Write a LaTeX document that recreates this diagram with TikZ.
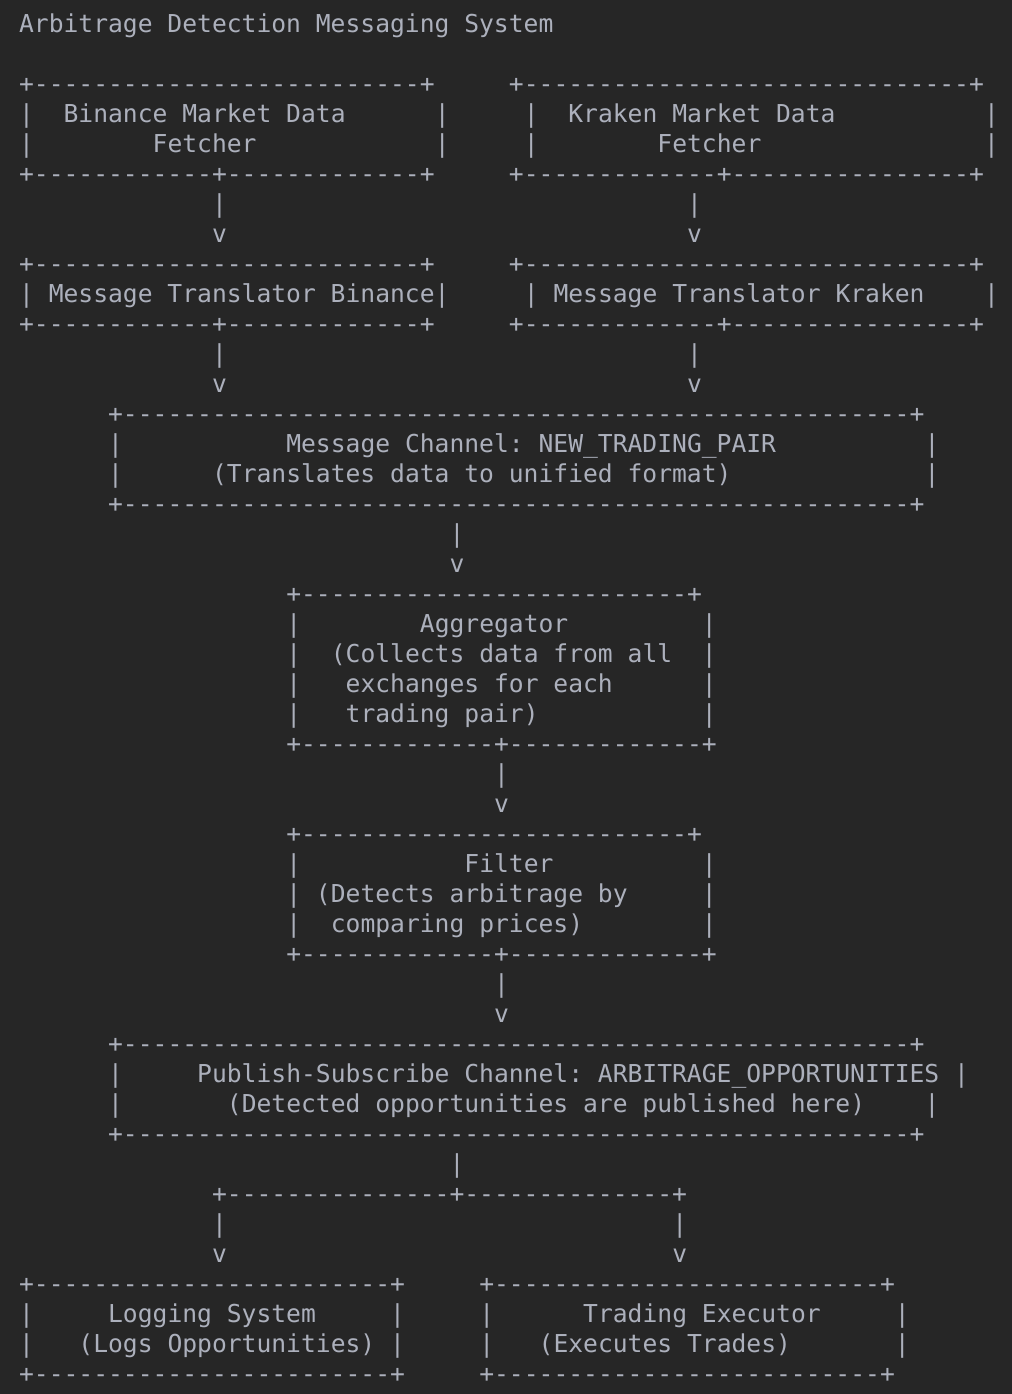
\documentclass[tikz,border=0pt]{standalone}
\usepackage{fontspec}
\setmonofont{DejaVu Sans Mono}
\definecolor{bg}{RGB}{38,38,38}
\definecolor{fg}{RGB}{172,176,188}
\ExplSyntaxOn
\cs_new:Npn \dashrun #1 { \prg_replicate:nn {#1} {-} }
\ExplSyntaxOff
\tikzset{
  txt/.style={anchor=base west, inner sep=0pt, outer sep=0pt, text=fg,
    font=\ttfamily\fontsize{18.49pt}{22.5pt}\selectfont}
}
% column, row, name, text
\newcommand\asciiseg[4]{\node[txt] (#3) at ({14.3pt+#1*11.1345pt},{-24.45pt-#2*22.5pt}) {#4};}
\begin{document}
\begin{tikzpicture}
\fill[bg] (0,0) rectangle (759pt,-1045.5pt);
\useasboundingbox (0,0) rectangle (759pt,-1045.5pt);
% title
\asciiseg{0}{0}{title}{Arbitrage Detection Messaging System}
% fetchers
\asciiseg{0}{2}{binf-top}{+\dashrun{26}+}
\asciiseg{33}{2}{krkf-top}{+\dashrun{30}+}
\asciiseg{0}{3}{binf-l1}{|}
\asciiseg{3}{3}{binf-t1}{Binance Market Data}
\asciiseg{28}{3}{binf-r1}{|}
\asciiseg{34}{3}{krkf-l1}{|}
\asciiseg{37}{3}{krkf-t1}{Kraken Market Data}
\asciiseg{65}{3}{krkf-r1}{|}
\asciiseg{0}{4}{binf-l2}{|}
\asciiseg{9}{4}{binf-t2}{Fetcher}
\asciiseg{28}{4}{binf-r2}{|}
\asciiseg{34}{4}{krkf-l2}{|}
\asciiseg{43}{4}{krkf-t2}{Fetcher}
\asciiseg{65}{4}{krkf-r2}{|}
\asciiseg{0}{5}{binf-bot}{+\dashrun{12}+\dashrun{13}+}
\asciiseg{33}{5}{krkf-bot}{+\dashrun{13}+\dashrun{16}+}
\asciiseg{13}{6}{a1-bar}{|}
\asciiseg{45}{6}{a2-bar}{|}
\asciiseg{13}{7}{a1-tip}{v}
\asciiseg{45}{7}{a2-tip}{v}
% translators
\asciiseg{0}{8}{bint-top}{+\dashrun{26}+}
\asciiseg{33}{8}{krkt-top}{+\dashrun{30}+}
\asciiseg{0}{9}{bint-t}{| Message Translator Binance|}
\asciiseg{34}{9}{krkt-t}{| Message Translator Kraken}
\asciiseg{65}{9}{krkt-r}{|}
\asciiseg{0}{10}{bint-bot}{+\dashrun{12}+\dashrun{13}+}
\asciiseg{33}{10}{krkt-bot}{+\dashrun{13}+\dashrun{16}+}
\asciiseg{13}{11}{a3-bar}{|}
\asciiseg{45}{11}{a4-bar}{|}
\asciiseg{13}{12}{a3-tip}{v}
\asciiseg{45}{12}{a4-tip}{v}
% message channel
\asciiseg{6}{13}{mc-top}{+\dashrun{53}+}
\asciiseg{6}{14}{mc-l1}{|}
\asciiseg{18}{14}{mc-t1}{Message Channel: NEW\_TRADING\_PAIR}
\asciiseg{61}{14}{mc-r1}{|}
\asciiseg{6}{15}{mc-l2}{|}
\asciiseg{13}{15}{mc-t2}{(Translates data to unified format)}
\asciiseg{61}{15}{mc-r2}{|}
\asciiseg{6}{16}{mc-bot}{+\dashrun{53}+}
\asciiseg{29}{17}{a5-bar}{|}
\asciiseg{29}{18}{a5-tip}{v}
% aggregator
\asciiseg{18}{19}{ag-top}{+\dashrun{26}+}
\asciiseg{18}{20}{ag-l1}{|}
\asciiseg{27}{20}{ag-t1}{Aggregator}
\asciiseg{46}{20}{ag-r1}{|}
\asciiseg{18}{21}{ag-l2}{|}
\asciiseg{21}{21}{ag-t2}{(Collects data from all}
\asciiseg{46}{21}{ag-r2}{|}
\asciiseg{18}{22}{ag-l3}{|}
\asciiseg{22}{22}{ag-t3}{exchanges for each}
\asciiseg{46}{22}{ag-r3}{|}
\asciiseg{18}{23}{ag-l4}{|}
\asciiseg{22}{23}{ag-t4}{trading pair)}
\asciiseg{46}{23}{ag-r4}{|}
\asciiseg{18}{24}{ag-bot}{+\dashrun{13}+\dashrun{13}+}
\asciiseg{32}{25}{a6-bar}{|}
\asciiseg{32}{26}{a6-tip}{v}
% filter
\asciiseg{18}{27}{fl-top}{+\dashrun{26}+}
\asciiseg{18}{28}{fl-l1}{|}
\asciiseg{30}{28}{fl-t1}{Filter}
\asciiseg{46}{28}{fl-r1}{|}
\asciiseg{18}{29}{fl-l2}{|}
\asciiseg{20}{29}{fl-t2}{(Detects arbitrage by}
\asciiseg{46}{29}{fl-r2}{|}
\asciiseg{18}{30}{fl-l3}{|}
\asciiseg{21}{30}{fl-t3}{comparing prices)}
\asciiseg{46}{30}{fl-r3}{|}
\asciiseg{18}{31}{fl-bot}{+\dashrun{13}+\dashrun{13}+}
\asciiseg{32}{32}{a7-bar}{|}
\asciiseg{32}{33}{a7-tip}{v}
% publish-subscribe channel
\asciiseg{6}{34}{ps-top}{+\dashrun{53}+}
\asciiseg{6}{35}{ps-l1}{|}
\asciiseg{12}{35}{ps-t1}{Publish-Subscribe Channel: ARBITRAGE\_OPPORTUNITIES |}
\asciiseg{6}{36}{ps-l2}{|}
\asciiseg{14}{36}{ps-t2}{(Detected opportunities are published here)}
\asciiseg{61}{36}{ps-r2}{|}
\asciiseg{6}{37}{ps-bot}{+\dashrun{53}+}
\asciiseg{29}{38}{sp-bar}{|}
\asciiseg{13}{39}{sp-line}{+\dashrun{15}+\dashrun{14}+}
\asciiseg{13}{40}{a8-bar}{|}
\asciiseg{44}{40}{a9-bar}{|}
\asciiseg{13}{41}{a8-tip}{v}
\asciiseg{44}{41}{a9-tip}{v}
% logging and trading
\asciiseg{0}{42}{lg-top}{+\dashrun{24}+}
\asciiseg{31}{42}{tr-top}{+\dashrun{26}+}
\asciiseg{0}{43}{lg-l1}{|}
\asciiseg{6}{43}{lg-t1}{Logging System}
\asciiseg{25}{43}{lg-r1}{|}
\asciiseg{31}{43}{tr-l1}{|}
\asciiseg{38}{43}{tr-t1}{Trading Executor}
\asciiseg{59}{43}{tr-r1}{|}
\asciiseg{0}{44}{lg-l2}{|}
\asciiseg{4}{44}{lg-t2}{(Logs Opportunities) |}
\asciiseg{31}{44}{tr-l2}{|}
\asciiseg{35}{44}{tr-t2}{(Executes Trades)}
\asciiseg{59}{44}{tr-r2}{|}
\asciiseg{0}{45}{lg-bot}{+\dashrun{24}+}
\asciiseg{31}{45}{tr-bot}{+\dashrun{26}+}
\end{tikzpicture}
\end{document}
